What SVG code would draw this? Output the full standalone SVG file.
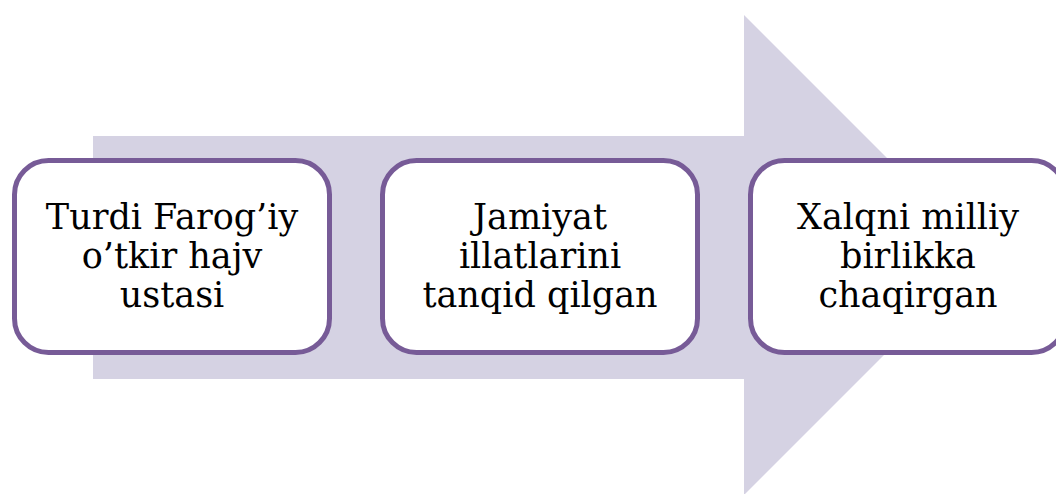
<svg xmlns="http://www.w3.org/2000/svg" width="1056" height="494" viewBox="0 0 1056 494">
<style>
.box{fill:#ffffff;stroke:#775b97;stroke-width:5}
.t{font-family:"DejaVu Serif","Liberation Serif",serif;font-size:35px;fill:#000;text-anchor:middle}
</style>
<rect width="1056" height="494" fill="#ffffff"/>
<g id="arrow">
<polygon points="93,136 744,136 744,15 984,255 744,495 744,379 93,379" fill="#d5d2e3"/>
</g>
<g id="node1">
<rect class="box" x="14.5" y="160.5" width="315" height="192" rx="34"/>
<text class="t"><tspan x="172" y="229">Turdi Farog’iy</tspan><tspan x="172" y="268">o’tkir hajv</tspan><tspan x="172" y="307">ustasi</tspan></text>
</g>
<g id="node2">
<rect class="box" x="382.5" y="160.5" width="315" height="192" rx="34"/>
<text class="t"><tspan x="540" y="229">Jamiyat</tspan><tspan x="540" y="268">illatlarini</tspan><tspan x="540" y="307">tanqid qilgan</tspan></text>
</g>
<g id="node3">
<rect class="box" x="750.5" y="160.5" width="315" height="192" rx="34"/>
<text class="t"><tspan x="908" y="229">Xalqni milliy</tspan><tspan x="908" y="268">birlikka</tspan><tspan x="908" y="307">chaqirgan</tspan></text>
</g>
<g id="connectors"></g>
</svg>
